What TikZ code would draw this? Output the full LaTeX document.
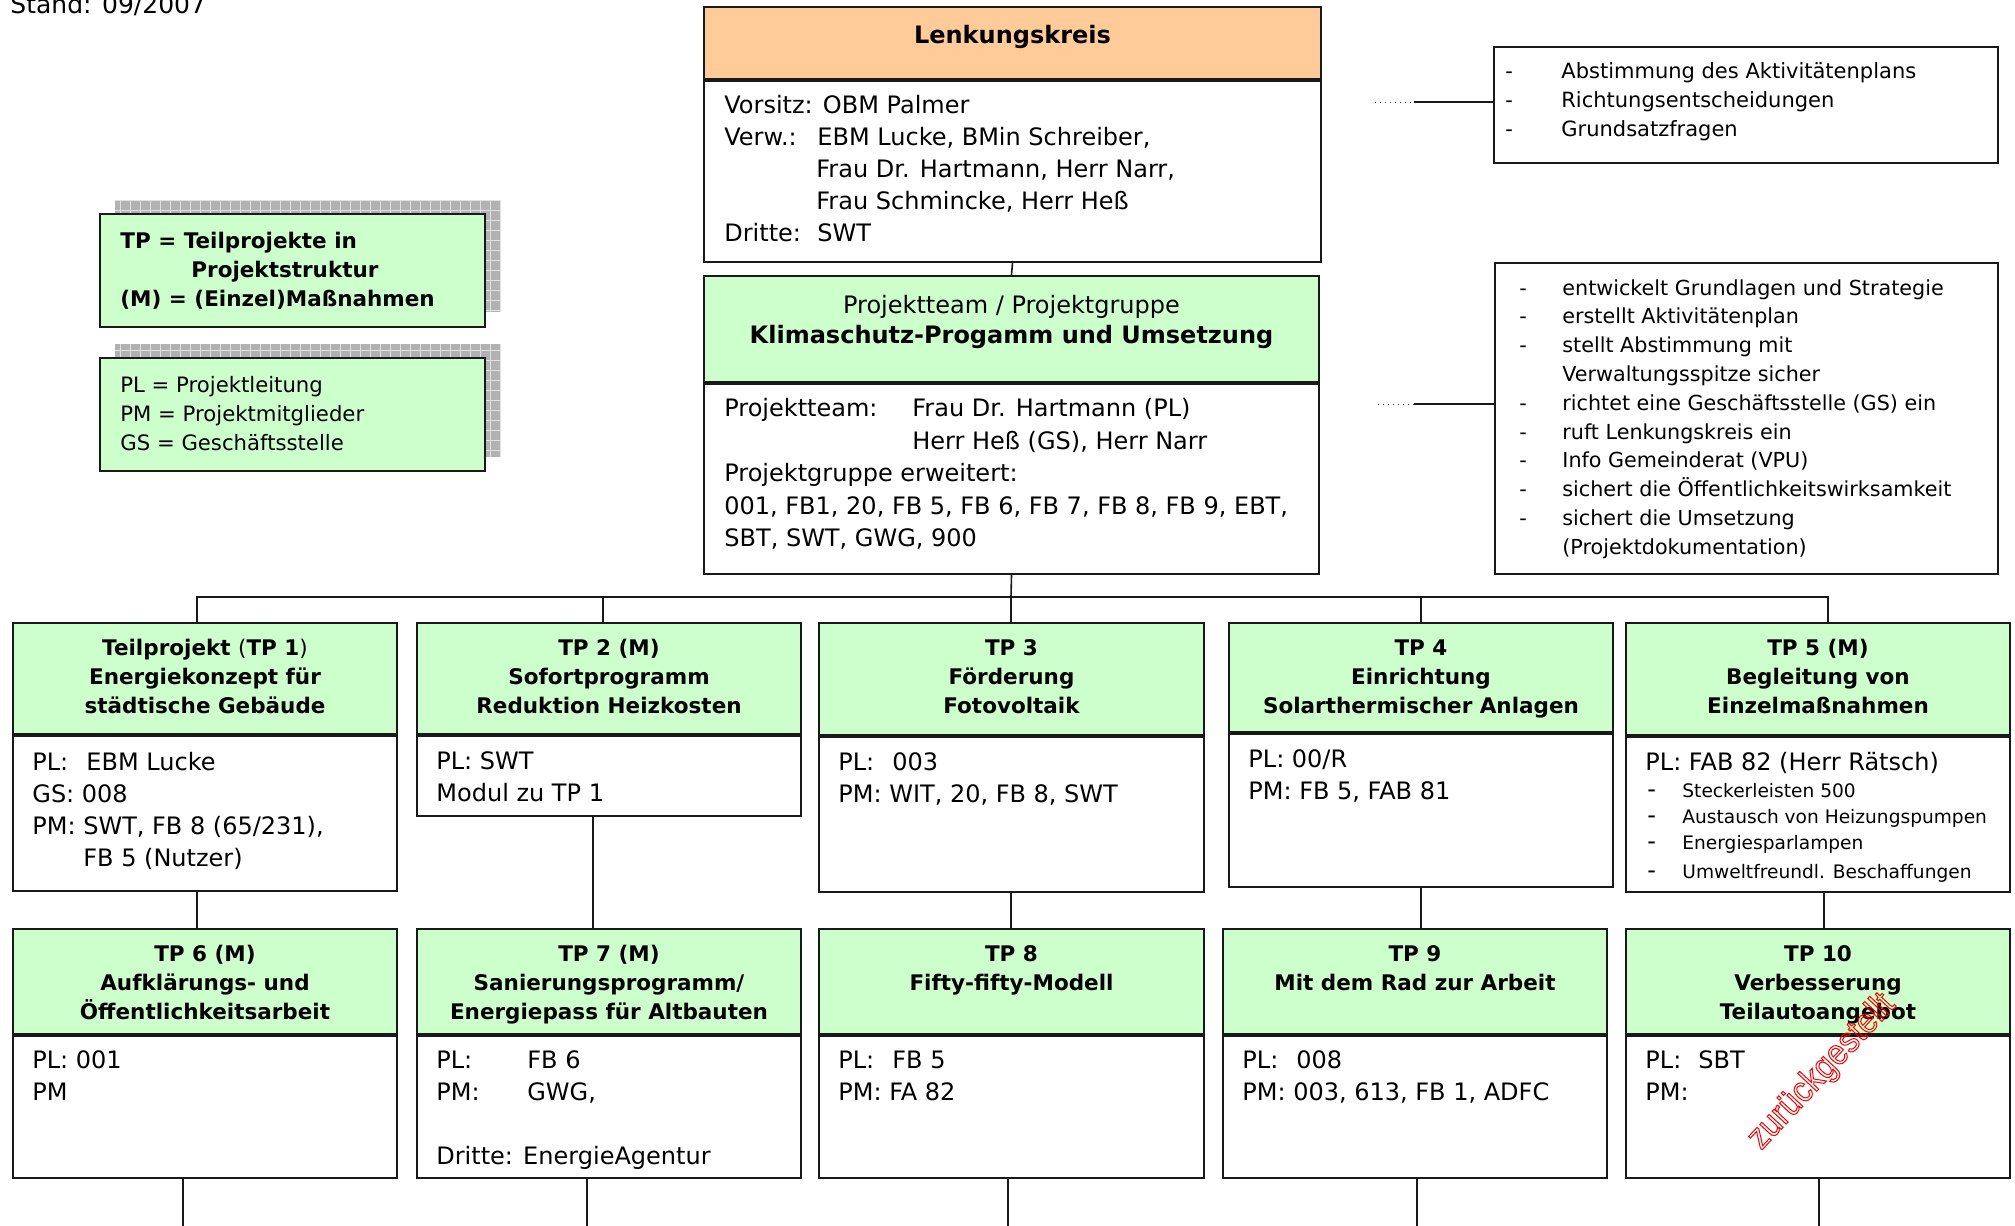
\documentclass[tikz,border=0pt]{standalone}
\usepackage{fontspec}
\setmainfont{DejaVu Sans}
\newfontfamily\redfont{Liberation Sans}[FakeStretch=0.9]
\usetikzlibrary{calc}
\definecolor{orangehdr}{RGB}{255,204,153}
\definecolor{greenhdr}{RGB}{204,255,204}
\newcommand{\myfs}[2]{\fontsize{#1}{#2}\selectfont}
\newcommand{\rbul}[2]{\makebox[#1][l]{-}#2}
\tikzset{
  boxline/.style={draw=black!90, line width=1pt},
  hdrbox/.style={boxline, fill=greenhdr, rectangle, inner sep=0pt, anchor=north west},
  bodybox/.style={boxline, fill=white, rectangle, inner sep=0pt, anchor=north west},
  hdrtext/.style={anchor=north, inner sep=0pt, align=center, font=\bfseries\myfs{10.75pt}{14.5pt}},
  bodytext/.style={anchor=north west, inner sep=0pt, align=left, font=\myfs{12pt}{16pt}},
  conn/.style={draw=black!90, line width=0.8pt},
  dotconn/.style={draw=black!80, line width=0.5pt, dotted},
  legbox/.style={boxline, fill=greenhdr, rectangle, inner sep=0pt, anchor=north west},
  rbox/.style={boxline, fill=white, rectangle, inner sep=0pt, anchor=north west},
  plain/.style={anchor=north west, inner sep=0pt, align=left},
}
% name, x, y, width, header height, body height, header text, body text, body text offset (px)
\newcommand{\tpbox}[9]{%
  \node[hdrbox, minimum width=#4*0.5pt, minimum height=#5*0.5pt] (#1-h) at (#2,#3) {};
  \node[bodybox, minimum width=#4*0.5pt, minimum height=#6*0.5pt] (#1-b) at (#1-h.south west) {};
  \begin{scope}
    \clip (#1-h.north west) rectangle (#1-h.south east);
    \node[hdrtext] (#1-ht) at ([yshift=-8.5pt]#1-h.north) {#7};
  \end{scope}
  \begin{scope}
    \clip (#1-b.north west) rectangle (#1-b.south east);
    \node[bodytext] (#1-bt) at ([xshift=10pt,yshift=-#9*0.5pt]#1-b.north west) {#8};
  \end{scope}
}
\begin{document}
\begin{tikzpicture}[x=0.5pt,y=-0.5pt]
\useasboundingbox (0,0) rectangle (2015,1226);
\fill[white] (0,0) rectangle (2015,1226);
\clip (0,0) rectangle (2015,1226);

% date
\node[anchor=base west, inner sep=0pt, font=\myfs{12.5pt}{14pt}] (stand) at (10,13) {Stand: 09/2007};

% Lenkungskreis
\node[hdrbox, fill=orangehdr, minimum width=617*0.5pt, minimum height=72*0.5pt] (lk-h) at (703,6) {};
\node[bodybox, minimum width=617*0.5pt, minimum height=181*0.5pt] (lk-b) at (lk-h.south west) {};
\node[anchor=north, inner sep=0pt, font=\bfseries\myfs{12pt}{15pt}] (lk-ht) at ([yshift=-9.5pt]lk-h.north) {Lenkungskreis};
\node[bodytext] (lk-bt) at ([xshift=10.5pt,yshift=-7.25pt]lk-b.north west)
  {Vorsitz: OBM Palmer\\
   \makebox[46.5pt][l]{Verw.:}EBM Lucke, BMin Schreiber,\\
   \hspace*{46pt}Frau Dr. Hartmann, Herr Narr,\\
   \hspace*{46pt}Frau Schmincke, Herr Heß\\
   \makebox[46.5pt][l]{Dritte:}SWT};

% Projektteam
\node[hdrbox, minimum width=615*0.5pt, minimum height=106*0.5pt] (pt-h) at (703,275) {};
\node[bodybox, minimum width=615*0.5pt, minimum height=190*0.5pt] (pt-b) at (pt-h.south west) {};
\node[anchor=north, inner sep=0pt, align=center, font=\myfs{12pt}{15pt}] (pt-ht) at ([yshift=-10pt]pt-h.north)
  {Projektteam / Projektgruppe\\ \textbf{Klimaschutz-Progamm und Umsetzung}};
\node[bodytext, font=\myfs{12pt}{16.25pt}] (pt-bt) at ([xshift=10.5pt,yshift=-7.5pt]pt-b.north west)
  {\makebox[94pt][l]{Projektteam:}Frau Dr. Hartmann (PL)\\
   \hspace*{94pt}Herr Heß (GS), Herr Narr\\
   Projektgruppe erweitert:\\
   001, FB1, 20, FB 5, FB 6, FB 7, FB 8, FB 9, EBT,\\
   SBT, SWT, GWG, 900};

% right boxes
\node[rbox, minimum width=504*0.5pt, minimum height=116*0.5pt] (r1) at (1493,46) {};
\node[plain, font=\myfs{10.5pt}{14.4pt}] (r1t) at ([xshift=6pt,yshift=-8.1pt]r1.north west)
  {\rbul{28pt}{Abstimmung des Aktivitätenplans}\\
   \rbul{28pt}{Richtungsentscheidungen}\\
   \rbul{28pt}{Grundsatzfragen}};
\node[rbox, minimum width=503*0.5pt, minimum height=311*0.5pt] (r2) at (1494,262) {};
\node[plain, font=\myfs{10.35pt}{14.4pt}] (r2t) at ([xshift=12.5pt,yshift=-8.5pt]r2.north west)
  {\rbul{21.5pt}{entwickelt Grundlagen und Strategie}\\
   \rbul{21.5pt}{erstellt Aktivitätenplan}\\
   \rbul{21.5pt}{stellt Abstimmung mit}\\
   \hspace*{21.5pt}Verwaltungsspitze sicher\\
   \rbul{21.5pt}{richtet eine Geschäftsstelle (GS) ein}\\
   \rbul{21.5pt}{ruft Lenkungskreis ein}\\
   \rbul{21.5pt}{Info Gemeinderat (VPU)}\\
   \rbul{21.5pt}{sichert die Öffentlichkeitswirksamkeit}\\
   \rbul{21.5pt}{sichert die Umsetzung}\\
   \hspace*{21.5pt}(Projektdokumentation)};
\coordinate (r1dot) at (1375,102);
\coordinate (r1sol) at (1414,102);
\coordinate (r2dot) at (1378,404);
\coordinate (r2sol) at (1414,404);
\draw[dotconn] (r1dot) -- (r1sol);
\draw[conn] (r1sol) -- (r1sol -| r1.west);
\draw[dotconn] (r2dot) -- (r2sol);
\draw[conn] (r2sol) -- (r2sol -| r2.west);

% legends
\fill[black!30] (115,200) rectangle (501,312);
\draw[black!12, line width=0.4pt, step=5pt] (115,200) grid (501,312);
\node[legbox, minimum width=385*0.5pt, minimum height=113*0.5pt] (leg1) at (99,213) {};
\node[plain, font=\bfseries\myfs{10.75pt}{14.5pt}] (leg1t) at ([xshift=10.5pt,yshift=-9.5pt]leg1.north west)
  {TP = Teilprojekte in\\ \hspace*{35.5pt}Projektstruktur\\ (M) = (Einzel)Maßnahmen};
\fill[black!30] (115,344) rectangle (501,457);
\draw[black!12, line width=0.4pt, step=5pt] (115,344) grid (501,457);
\node[legbox, minimum width=385*0.5pt, minimum height=113*0.5pt] (leg2) at (99,357) {};
\node[plain, font=\myfs{10.6pt}{14.5pt}] (leg2t) at ([xshift=10.5pt,yshift=-9.5pt]leg2.north west)
  {PL = Projektleitung\\ PM = Projektmitglieder\\ GS = Geschäftsstelle};

% row 1
\tpbox{tp1}{12}{622}{384}{111}{155}{Teilprojekt {\mdseries(}TP 1{\mdseries)}\\Energiekonzept für\\städtische Gebäude}
  {\makebox[27pt][l]{PL:}EBM Lucke\\GS: 008\\PM: SWT, FB 8 (65/231),\\\hspace*{25.5pt}FB 5 (Nutzer)}{16.5}
\tpbox{tp2}{416}{622}{384}{111}{80}{TP 2 (M)\\Sofortprogramm\\Reduktion Heizkosten}
  {PL: SWT\\Modul zu TP 1}{16.5}
\tpbox{tp3}{818}{622}{385}{112}{155}{TP 3\\Förderung\\Fotovoltaik}
  {\makebox[27pt][l]{PL:}003\\PM: WIT, 20, FB 8, SWT}{16.5}
\tpbox{tp4}{1228}{622}{384}{109}{153}{TP 4\\Einrichtung\\Solarthermischer Anlagen}
  {PL: 00/R\\PM: FB 5, FAB 81}{16.5}
\tpbox{tp5}{1625}{622}{384}{112}{155}{TP 5 (M)\\Begleitung von\\Einzelmaßnahmen}
  {PL: FAB 82 (Herr Rätsch)\\[-2.25pt]
   \hspace*{1pt}\rbul{17.5pt}{\myfs{9.3pt}{12.5pt}Steckerleisten 500}\\[-3.15pt]
   \hspace*{1pt}\rbul{17.5pt}{\myfs{9.3pt}{12.5pt}Austausch von Heizungspumpen}\\[-3.15pt]
   \hspace*{1pt}\rbul{17.5pt}{\myfs{9.3pt}{12.5pt}Energiesparlampen}\\[-1.2pt]
   \hspace*{1pt}\rbul{17.5pt}{\myfs{9.3pt}{12.5pt}Umweltfreundl. Beschaffungen}}{15.5}

% row 2
\tpbox{tp6}{12}{928}{384}{105}{142}{TP 6 (M)\\Aufklärungs- und\\Öffentlichkeitsarbeit}
  {PL: 001\\PM}{15.5}
\tpbox{tp7}{416}{928}{384}{105}{142}{TP 7 (M)\\Sanierungsprogramm/\\Energiepass für Altbauten}
  {\makebox[45.5pt][l]{PL:}FB 6\\\makebox[45.5pt][l]{PM:}GWG,\\[16pt]Dritte: EnergieAgentur}{15.5}
\tpbox{tp8}{818}{928}{385}{105}{142}{TP 8\\Fifty-fifty-Modell}
  {\makebox[27pt][l]{PL:}FB 5\\PM: FA 82}{15.5}
\tpbox{tp9}{1222}{928}{384}{105}{142}{TP 9\\Mit dem Rad zur Arbeit}
  {\makebox[27pt][l]{PL:}008\\PM: 003, 613, FB 1, ADFC}{15.5}
\tpbox{tp10}{1625}{928}{384}{105}{142}{TP 10\\Verbesserung\\Teilautoangebot}
  {\makebox[26.5pt][l]{PL:}SBT\\PM:}{15.5}

% connectors
\coordinate (bus) at (1011,597);
\draw[conn] (lk-b.south) -- (pt-h.north);
\draw[conn] (pt-b.south) -- (bus);
\draw[conn] (bus) -| ([xshift=-4pt]tp1-h.north);
\draw[conn] (bus) -| ([xshift=-3pt]tp2-h.north);
\draw[conn] (bus) -- (tp3-h.north -| bus);
\draw[conn] (bus) -| (tp4-h.north);
\draw[conn] (bus) -| ([xshift=5pt]tp5-h.north);

\draw[conn] ([xshift=-4pt]tp1-b.south) -- ([xshift=-4pt]tp6-h.north);
\draw[conn] ([xshift=-8pt]tp2-b.south) -- ([xshift=-8pt]tp7-h.north);
\draw[conn] (tp3-b.south -| bus) -- (tp8-h.north -| bus);
\draw[conn] (tp4-b.south) -- (tp4-b.south |- tp9-h.north);
\draw[conn] ([xshift=3pt]tp5-b.south) -- ([xshift=3pt]tp10-h.north);

\coordinate (e6) at (183,1230);
\coordinate (e7) at (587,1230);
\coordinate (e8) at (1008,1230);
\coordinate (e9) at (1417,1230);
\coordinate (e10) at (1819,1230);
\draw[conn] (tp6-b.south -| e6) -- (e6);
\draw[conn] (tp7-b.south -| e7) -- (e7);
\draw[conn] (tp8-b.south -| e8) -- (e8);
\draw[conn] (tp9-b.south -| e9) -- (e9);
\draw[conn] (tp10-b.south -| e10) -- (e10);

% stamp
\node[rotate=47, text=red, inner sep=0pt, font=\redfont\myfs{18pt}{18pt}] (zg) at (1822,1072)
  {\special{pdf:literal direct 1 Tr 0.5 w}zurückgestellt\special{pdf:literal direct 0 Tr}};
\end{tikzpicture}
\end{document}
